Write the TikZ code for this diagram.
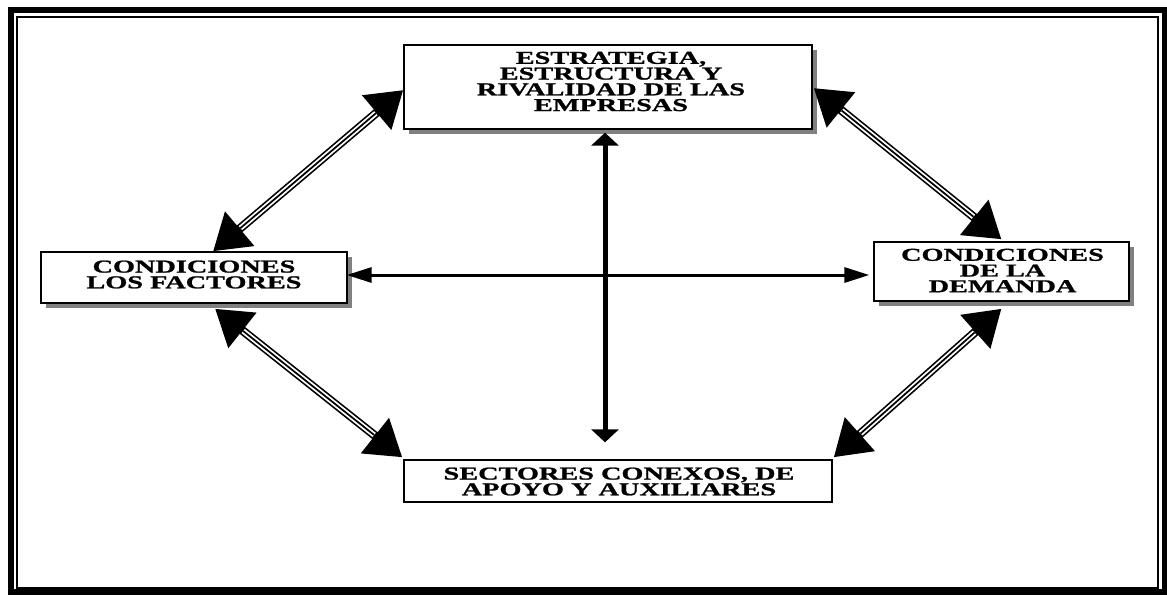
\documentclass[tikz,border=0pt]{standalone}
\usepackage{fontspec}
\newfontfamily\boxfont[FakeStretch=1.56,FakeBold=1.2]{Liberation Serif}
\usetikzlibrary{arrows.meta,calc,shadows}
\definecolor{shadowgray}{RGB}{128,128,128}
\tikzset{
  box/.style={draw=black, line width=1pt, fill=white, inner sep=0pt},
  shadowed/.style={drop shadow={shadow xshift=3.75pt, shadow yshift=-3.75pt, fill=shadowgray, opacity=1}},
  boxtext/.style={align=center, inner sep=0pt, font=\boxfont\bfseries\fontsize{13.6}{11.8}\selectfont},
  bigtip/.style={line width=6.5pt, {Triangle[length=26.25pt,width=32.25pt]}-{Triangle[length=26.25pt,width=32.25pt]}},
  vtip/.style={line width=3.75pt, {Triangle[length=9.75pt,width=20.25pt]}-{Triangle[length=9.75pt,width=20.25pt]}},
  htip/.style={line width=2.25pt, {Triangle[length=18.75pt,width=11.25pt]}-{Triangle[length=18.75pt,width=11.25pt]}},
}
\newcommand\tripleconn[2]{%
  \draw[bigtip] (#1) -- (#2);
  \draw[white, line width=4pt, shorten <=27pt, shorten >=27pt] (#1) -- (#2);
  \draw[black, line width=1.3pt, shorten <=27pt, shorten >=27pt] (#1) -- (#2);
}
\begin{document}
\begin{tikzpicture}[x=0.75pt,y=-0.75pt]
\useasboundingbox (0,0) rectangle (1167,594);
\fill[white] (0,0) rectangle (1167,594);
% frame
\draw[line width=4.5pt] (10.5,9.5) rectangle (1164.5,591.5);
\draw[line width=1.5pt] (17,17) rectangle (1158,587.5);
% boxes
\node[box, shadowed, minimum width=306pt, minimum height=63pt] (top) at (608,87) {};
\node[box, shadowed, minimum width=229.5pt, minimum height=38.25pt] (lb) at (194,277.5) {};
\node[box, shadowed, minimum width=191.25pt, minimum height=44.25pt] (rb) at (1001.5,271.5) {};
\node[box, minimum width=321pt, minimum height=31.5pt] (bb) at (618,481) {};
% texts
\node[boxtext] (toptext) at (611,81.5) {ESTRATEGIA,\\ESTRUCTURA Y\\RIVALIDAD DE LAS\\EMPRESAS};
\node[boxtext] (lbtext) at (194,274.5) {CONDICIONES\\LOS FACTORES};
\node[boxtext] (rbtext) at (1002.5,270.5) {CONDICIONES\\DE LA\\DEMANDA};
\node[boxtext] (bbtext) at (619,481.5) {SECTORES CONEXOS, DE\\APOYO Y AUXILIARES};
% connector end points
\coordinate (tlA) at ($(top.west)+(0,3)$);
\coordinate (tlB) at ($(lb.north)+(19,0)$);
\coordinate (trA) at ($(top.east)+(1,1)$);
\coordinate (trB) at ($(rb.north)+(0,-2)$);
\coordinate (brA) at ($(rb.south)+(0,7)$);
\coordinate (brB) at ($(bb.north east)+(1,-2)$);
\coordinate (blA) at ($(lb.south)+(21,5)$);
\coordinate (blB) at ($(bb.north west)+(-1,-2)$);
\coordinate (vA) at ($(top.south)+(-3,3)$);
\coordinate (vB) at ($(bb.north)+(-13,-17)$);
\coordinate (hA) at ($(lb.east)+(-1,-2.5)$);
\coordinate (hB) at ($(rb.west)+(-4,3.5)$);
% connectors
\tripleconn{tlA}{tlB}
\tripleconn{trA}{trB}
\tripleconn{brA}{brB}
\tripleconn{blA}{blB}
\draw[htip] (hA) -- (hB);
\draw[vtip] (vA) -- (vB);
\end{tikzpicture}
\end{document}
